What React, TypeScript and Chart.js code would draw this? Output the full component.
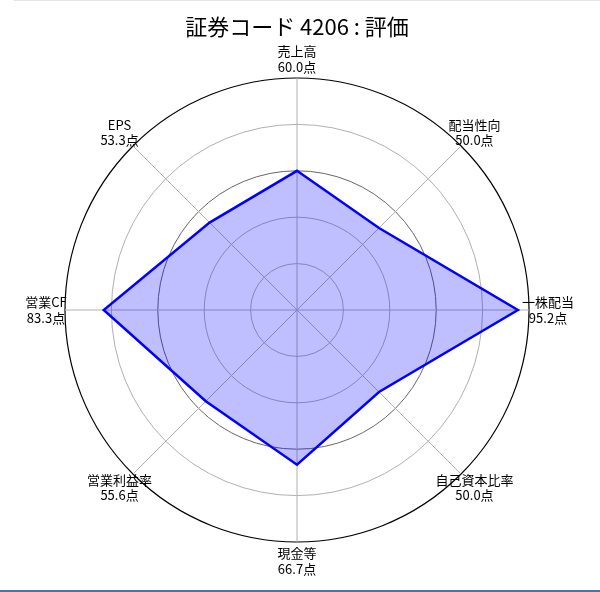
import { Chart, registerables } from "chart.js";
import React, { useEffect, useRef } from "react";

Chart.register(...registerables);

const title = "証券コード 4206 : 評価";
const categories = ["売上高", "配当性向", "一株配当", "自己資本比率", "現金等", "営業利益率", "営業CF", "EPS"];
const scores = [60.0, 50.0, 95.2, 50.0, 66.7, 55.6, 83.3, 53.3];
const gridSteps = [20, 40, 60, 80, 100];

const FONT = '"Noto Sans CJK JP", "Noto Sans", sans-serif';

// draws the title and the two-line point labels (name + score) like matplotlib does
const labelPlugin = {
  id: "radarLabels",
  afterDraw(chart: Chart) {
    const { ctx } = chart;
    const scale: any = chart.scales.r;
    ctx.save();
    ctx.fillStyle = "#000";
    ctx.textAlign = "center";
    ctx.textBaseline = "middle";
    ctx.font = `22px ${FONT}`;
    ctx.fillText(title, 297, 27);

    ctx.font = `13px ${FONT}`;
    categories.forEach((name, i) => {
      const p = scale.getPointPosition(i, scale.drawingArea + 19);
      ctx.fillText(name, p.x, p.y - 7.5);
      ctx.fillText(`${scores[i].toFixed(1)}点`, p.x, p.y + 8);
    });
    ctx.restore();
  },
};

const RadarScoreChart: React.FC = () => {
  const chartRef = useRef<HTMLCanvasElement>(null);

  useEffect(() => {
    if (!chartRef.current) return;
    const chart = new Chart(chartRef.current, {
      type: "radar",
      data: {
        labels: categories,
        datasets: [
          {
            data: scores,
            borderColor: "#0000ff",
            borderWidth: 2.5,
            backgroundColor: "rgba(0, 0, 255, 0.25)",
            fill: true,
            pointRadius: 0,
            tension: 0,
          },
        ],
      },
      options: {
        responsive: false,
        animation: false,
        layout: { padding: { left: 65, right: 71, top: 78, bottom: 50 } },
        plugins: {
          legend: { display: false },
          tooltip: { enabled: false },
        },
        scales: {
          r: {
            z: 1, // grid on top of the fill, like matplotlib
            min: 0,
            max: gridSteps[gridSteps.length - 1],
            ticks: { display: false, stepSize: gridSteps[0] },
            pointLabels: { display: false },
            angleLines: { color: "#b0b0b0", lineWidth: 1 },
            grid: {
              circular: true,
              color: (c: any) => (c.tick.value === 100 ? "#000000" : c.tick.value === 60 ? "#666666" : "#b0b0b0"),
              lineWidth: (c: any) => (c.tick.value === 100 ? 1.2 : 1),
            },
          },
        },
      },
      plugins: [labelPlugin],
    });

    return () => {
      chart.destroy();
    };
  }, []);

  return (
    <div style={{ position: "absolute", left: 0, top: 0, width: 600, height: 592, background: "#fff" }}>
      <div style={{ position: "absolute", left: 14, top: 0, width: 586, height: 1, background: "#e4e4e4" }} />
      <canvas ref={chartRef} width={600} height={592} style={{ display: "block" }}></canvas>
      <div style={{ position: "absolute", left: 0, top: 590, width: 600, height: 2, background: "#3b78b5" }} />
    </div>
  );
};

export default function App() {
  return <RadarScoreChart />;
}
